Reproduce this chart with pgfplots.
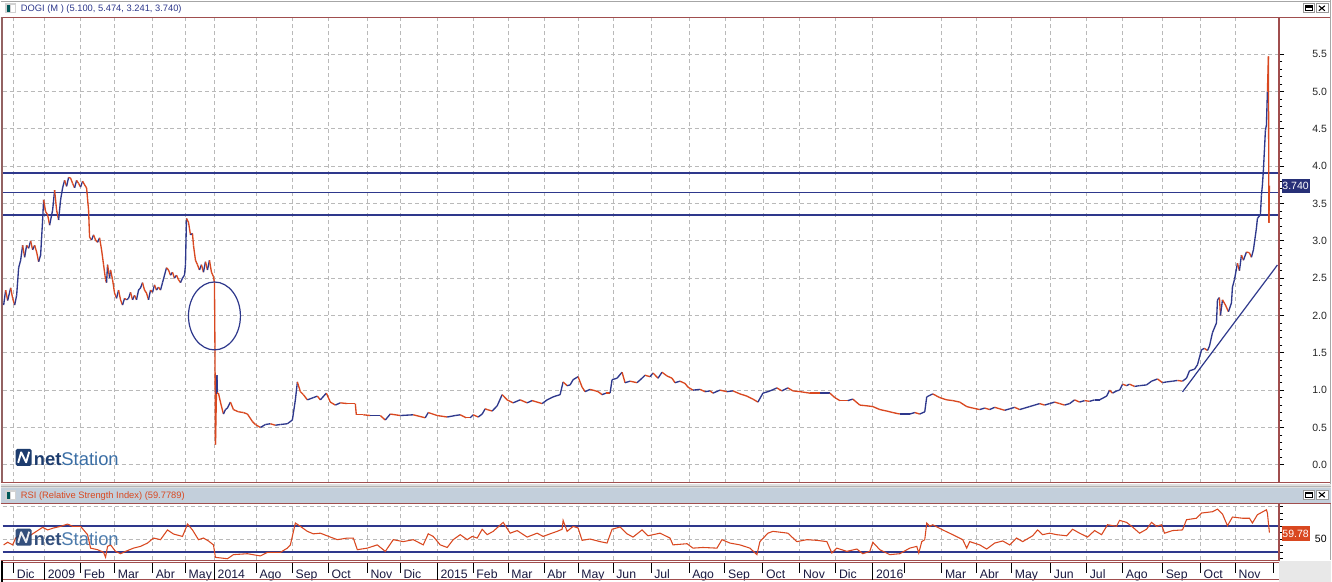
\documentclass[border=0pt]{standalone}
\usepackage{fontspec}
\setmainfont{Liberation Sans}
\usepackage{pgfplots}
\usepackage{pgfplotstable}
\pgfplotsset{compat=1.18}

\definecolor{pred}{HTML}{D94820}
\definecolor{pblue}{HTML}{2E388C}
\definecolor{frame}{HTML}{A04E4E}
\definecolor{gridc}{HTML}{B9B9B9}
\definecolor{hdr}{HTML}{C3CFDB}
\definecolor{logoA}{HTML}{1D3C6E}
\definecolor{logoB}{HTML}{3A6EA5}
\definecolor{datec}{HTML}{1A1A40}

% price path, x in screen columns, c=1 for a falling (red) segment
\pgfplotstableread{
x p c
3 2.14 0
5 2.34 1
7 2.20 0
10 2.37 1
12 2.23 1
14 2.14 0
16 2.27 0
18 2.64 0
20 2.74 0
22 2.94 1
24 2.78 0
26 2.94 1
28 2.90 0
30 3.00 1
32 2.88 0
34 2.94 1
36 2.85 1
38 2.72 0
40 2.81 0
42 3.28 0
43 3.55 1
45 3.39 1
47 3.35 1
49 3.21 0
52 3.41 0
54 3.68 1
56 3.41 1
58 3.28 0
60 3.55 0
62 3.71 0
64 3.81 1
66 3.73 0
68 3.85 1
70 3.84 1
72 3.77 1
74 3.71 0
76 3.81 1
78 3.77 1
80 3.72 0
82 3.80 1
84 3.75 1
86 3.71 1
88 3.41 1
89 3.05 1
91 3.01 0
93 3.08 1
95 3.01 1
97 2.98 0
99 3.04 1
101 2.88 1
103 2.68 1
105 2.48 1
106 2.44 0
107 2.68 1
109 2.50 0
110 2.61 1
112 2.48 1
114 2.30 1
116 2.23 0
118 2.34 1
120 2.21 1
122 2.14 0
124 2.23 1
126 2.21 0
128 2.23 0
130 2.31 1
132 2.21 0
134 2.27 1
136 2.21 0
138 2.34 0
140 2.37 0
142 2.44 1
144 2.34 1
146 2.30 1
148 2.21 0
150 2.34 1
152 2.31 0
154 2.41 1
156 2.34 0
158 2.38 1
160 2.34 0
162 2.44 0
164 2.54 0
166 2.64 1
168 2.61 1
170 2.54 0
172 2.58 1
174 2.50 0
176 2.54 1
178 2.48 1
180 2.44 0
182 2.50 0
184 2.54 0
185 2.68 0
186 3.30 1
188 3.25 1
190 3.08 0
192 3.10 1
193 2.94 1
195 2.74 1
197 2.68 1
199 2.61 0
201 2.68 1
203 2.58 0
205 2.72 1
207 2.61 0
209 2.74 1
211 2.58 1
213 2.52 1
214 2.44 1
214.5 1.57 1
215 0.27 1
216 0.95 0
216.5 1.20 0
217 0.96 1
218 0.96 1
220 0.84 1
223 0.68 0
225 0.74 0
227 0.76 0
230 0.84 1
233 0.74 1
238 0.71 1
243 0.70 1
247 0.68 1
252 0.58 1
255 0.54 1
260 0.50 0
265 0.54 0
270 0.55 1
275 0.53 0
280 0.54 0
287 0.55 0
292 0.60 0
295 0.87 0
297 1.11 1
300 0.98 1
303 0.94 1
307 0.87 0
313 0.90 0
317 0.92 1
320 0.87 0
326 0.96 1
330 0.84 1
335 0.80 0
340 0.83 1
347 0.82 1
355 0.82 1
356 0.67 1
363 0.67 1
370 0.66 0
380 0.66 1
385 0.60 0
390 0.68 1
400 0.66 0
413 0.67 1
425 0.63 0
428 0.70 1
437 0.66 1
447 0.64 0
455 0.66 0
460 0.67 1
466 0.63 1
470 0.63 0
473 0.67 1
478 0.64 0
482 0.68 0
485 0.75 1
487 0.74 1
492 0.72 0
497 0.79 0
502 0.94 1
507 0.87 1
513 0.83 0
520 0.87 1
527 0.83 0
532 0.86 1
537 0.84 1
542 0.82 0
547 0.87 0
553 0.91 0
560 0.94 0
563 1.11 1
567 1.06 0
570 1.07 0
573 1.14 0
578 1.18 1
582 1.04 1
585 0.98 0
590 1.01 1
593 1.00 1
598 0.98 1
602 0.94 0
606 0.96 1
610 0.96 0
612 1.14 0
617 1.16 0
622 1.24 1
625 1.10 0
630 1.12 1
637 1.10 0
642 1.16 0
645 1.20 1
650 1.18 0
653 1.23 1
658 1.16 0
662 1.24 1
667 1.19 1
672 1.16 1
675 1.10 0
680 1.12 1
685 1.09 1
688 1.04 1
693 1.00 0
700 1.01 1
705 0.98 0
710 0.99 1
713 0.96 0
720 1.00 1
727 0.98 0
733 0.99 1
740 0.95 1
747 0.92 1
753 0.88 1
758 0.84 0
763 0.96 0
768 0.98 0
772 1.00 0
777 1.03 1
782 0.99 0
788 1.03 1
793 0.99 1
800 0.98 1
810 0.96 1
820 0.96 0
830 0.96 1
835 0.90 1
840 0.86 1
848 0.86 0
853 0.88 1
860 0.80 1
867 0.79 1
873 0.78 1
880 0.74 1
887 0.72 1
893 0.70 1
900 0.68 0
910 0.68 0
915 0.70 1
920 0.68 0
925 0.71 0
927 0.91 0
933 0.95 1
940 0.90 1
947 0.87 1
953 0.86 1
960 0.84 1
967 0.78 1
973 0.76 1
980 0.74 0
985 0.76 1
990 0.74 0
995 0.77 1
1000 0.75 1
1005 0.73 0
1010 0.75 0
1015 0.77 1
1020 0.74 0
1025 0.76 0
1030 0.78 0
1035 0.80 0
1040 0.82 1
1045 0.80 0
1050 0.82 0
1055 0.84 1
1060 0.82 1
1065 0.80 0
1070 0.82 0
1075 0.87 1
1080 0.84 0
1085 0.86 1
1090 0.85 0
1095 0.87 0
1100 0.87 0
1107 0.92 0
1110 1.00 1
1113 0.96 0
1117 0.99 0
1120 1.00 0
1123 1.08 1
1127 1.06 0
1130 1.08 1
1135 1.05 0
1140 1.06 0
1147 1.07 0
1152 1.12 0
1158 1.15 1
1163 1.10 0
1167 1.11 0
1173 1.12 0
1178 1.13 1
1183 1.12 0
1187 1.16 0
1190 1.26 0
1195 1.28 0
1198 1.34 0
1202 1.54 0
1205 1.56 1
1208 1.53 0
1210 1.59 0
1213 1.77 0
1217 1.90 0
1218 2.21 0
1220 2.24 1
1221 2.00 0
1223 2.21 1
1226 2.14 1
1229 2.05 0
1232 2.17 0
1233 2.38 0
1235 2.48 0
1238 2.70 1
1240 2.60 0
1242 2.81 1
1244 2.74 0
1247 2.85 1
1250 2.84 1
1252 2.78 0
1254 2.88 0
1257 3.17 0
1258 3.30 0
1261 3.35 0
1262 3.61 0
1263 3.75 0
1264 3.95 0
1266 4.48 0
1267 4.55 0
1268 5.00 1
1269 5.47 1
1269.5 3.24 1
1270 3.74 1
}\price

\pgfplotstableread{
x r
3 41
7 45
12 41
15 51.5
20 56.7
27 53
33 59
42 68
47 64
53 67
60 69.5
67 73
72 69.5
80 69.5
87 56.7
90 36
97 33.6
103 29.5
105 22
107 38.7
110 41
115 31
120 27.4
125 31
133 36
140 38.7
147 43.8
153 51.5
160 49
167 64
173 57.7
182 54
187 73
192 64
198 49
203 51.5
208 47
213 41
215 21.8
227 19.7
233 26
247 27.4
260 24
267 29.5
280 29.5
287 36
290 41
295 74.6
300 69.5
307 61.8
313 58
320 59
330 53
337 49
347 51.5
353 51.5
357 33.6
367 36
377 41
385 31
393 49
403 46
413 49
423 41
428 58
433 54
440 41
447 37
453 49
460 56.7
467 49
472 54
477 51.5
482 65
487 56.7
493 61.8
503 75.6
510 59
517 63
527 53
537 59
543 54
550 58
557 61.8
562 65
563 78.7
567 61.8
573 69.5
578 67
582 48
590 50
600 46
607 43.8
612 65
620 68.5
627 58
633 53
642 64
648 55
660 59
670 51.5
673 41
687 42.8
693 36
703 37
717 36
722 49
730 43.8
740 41
750 36
757 26
760 46
768 59
773 61.8
783 60
788 59
797 46
807 49
817 48
827 46
832 28.5
837 36
847 31
857 34.6
863 27.4
870 31
873 45
880 33.6
890 26
900 27.4
910 36
917 38.7
919 28.5
922 46
925 49
927 74.6
930 69.5
933 72
943 64
953 56.7
963 49
967 36
970 46
980 41
987 34.6
995 43.8
1003 47
1010 41
1017 51.5
1023 46
1033 55
1038 64
1043 56.7
1050 59
1057 56.7
1067 55
1073 65
1080 59
1088 53
1095 63
1102 56.7
1108 72
1117 69.5
1120 78.7
1127 75.6
1133 68.5
1140 59
1147 65
1152 75.6
1157 69.5
1162 72
1165 59
1173 63
1183 64
1187 79.7
1197 82
1202 90
1213 92
1218 96
1223 88.5
1228 70.5
1233 83.8
1243 82
1250 82
1253 74.6
1258 87.4
1267 95
1268 90
1270 59.78
}\rsi

\tikzset{px/.style={x=0.75pt,y=-0.75pt}}

\newcommand{\netlogo}{%
  \fill[logoA, rounded corners=1.2pt] (15,449) rectangle (31,466);
  \draw[white, line width=1.4pt, line join=round] (17.5,463) -- (20.5,452.5) -- (25.5,462.5) -- (28.5,452);
  \node[anchor=base west, inner sep=0pt] at (33,465.5)
    {\fontsize{13.8}{14}\selectfont\textcolor{logoA}{\textbf{net}}\textcolor{logoB}{Station}};
}

\begin{document}
\begin{tikzpicture}
\begin{scope}[px]
\useasboundingbox (0,0) rectangle (1332,582);
\fill[white] (0,0) rectangle (1332,582);

% top header
\draw[gray!70] (0,0.5) -- (1332,0.5);
\fill[gray!35] (4,3) rectangle (15,13);
\fill[teal!70!black] (6,5) rectangle (9,12);
\fill[white] (10,5) rectangle (14,12);
\node[anchor=base west, inner sep=0pt, text=pblue] at (20,11)
  {\fontsize{7}{8}\selectfont DOGI (M ) (5.100, 5.474, 3.241, 3.740)};
\draw[gray!80] (1303.5,3.5) rectangle (1314.5,12.5);
\fill[black] (1305.5,5.5) rectangle (1312.5,7.5);
\draw[black] (1305.5,5.5) rectangle (1312.5,10.5);
\draw[gray!80] (1316.5,3.5) rectangle (1328.5,12.5);
\draw[black, line width=0.8pt] (1319.5,5.5) -- (1325.5,10.5) (1319.5,10.5) -- (1325.5,5.5);
\end{scope}

% main price panel
\begin{axis}[
  at={(1.5pt,-362.25pt)}, anchor=south west,
  scale only axis, width=958.5pt, height=349.5pt,
  xmin=2, xmax=1280, ymin=-0.241, ymax=5.995,
  axis line style={draw=none},
  xtick={13,44,80,114,152,185,214,256,292,328,367,400,437,473,508,544,578,613,651,689,725,763,800,836,873,942,977,1012,1051,1087,1123,1163,1201,1236},
  xticklabels={},
  major x tick style={draw=none},
  ytick={0,0.5,...,5.5},
  minor y tick num=4,
  ytick pos=right, yticklabel pos=right,
  tick align=outside,
  major tick length=3.5pt, minor tick length=2.2pt,
  y tick style={black, line width=0.6pt},
  yticklabel style={anchor=west, inner sep=0pt, xshift=21pt,
    font=\fontsize{7.9}{9}\selectfont, text=black!85},
  /pgf/number format/.cd, fixed, fixed zerofill, precision=1, assume math mode=true,
  /pgfplots/.cd,
  xmajorgrids, ymajorgrids,
  grid style={gridc, line width=0.6pt, dash pattern=on 3pt off 2.25pt},
  colormap={rb}{color=(pblue) color=(pred)},
  colormap access=piecewise constant,
  point meta min=0, point meta max=1,
]
\addplot[pblue, line width=1pt] coordinates {(2,3.91) (1280,3.91)};
\addplot[pblue, line width=1.1pt] coordinates {(2,3.65) (1280,3.65)};
\addplot[pblue, line width=1pt] coordinates {(2,3.345) (1280,3.345)};
\addplot[mesh, shader=flat corner, line width=1pt, point meta=explicit]
  table[x=x, y=p, meta=c] {\price};
\draw[pblue, line width=0.9pt] (axis cs:214,1.994) ellipse [x radius=19.5pt, y radius=25.5pt];
\draw[pblue, line width=0.9pt] (axis cs:1183,0.977) -- (axis cs:1278,2.676);
\end{axis}

% RSI panel
\begin{axis}[
  at={(1.5pt,-420.375pt)}, anchor=south west,
  scale only axis, width=958.5pt, height=42.75pt,
  xmin=2, xmax=1280, ymin=17.4, ymax=105,
  axis line style={draw=none},
  xtick={13,44,80,114,152,185,214,256,292,328,367,400,437,473,508,544,578,613,651,689,725,763,800,836,873,942,977,1012,1051,1087,1123,1163,1201,1236},
  xticklabels={Dic,2009,Feb,Mar,Abr,May,2014,Ago,Sep,Oct,Nov,Dic,2015,Feb,Mar,Abr,May,Jun,Jul,Ago,Sep,Oct,Nov,Dic,2016,Mar,Abr,May,Jun,Jul,Ago,Sep,Oct,Nov},
  xticklabel style={anchor=base west, inner sep=0pt, xshift=2.25pt, yshift=-11.6pt,
    font=\fontsize{9.2}{10}\selectfont, text=datec},
  major x tick style={draw=none},
  ytick={50,100}, yticklabels={50,{}},
  minor ytick={20,30,40,60,70,80,90},
  ytick pos=right, yticklabel pos=right,
  tick align=outside,
  major tick length=2.5pt, minor tick length=2.5pt,
  y tick style={black, line width=0.6pt},
  yticklabel style={anchor=west, inner sep=0pt, xshift=24pt,
    font=\fontsize{7.9}{9}\selectfont, text=black},
  xmajorgrids, ymajorgrids,
  grid style={gridc, line width=0.6pt, dash pattern=on 3pt off 2.25pt},
]
\addplot[pblue, line width=0.9pt] coordinates {(2,70) (1280,70)};
\addplot[pblue, line width=0.9pt] coordinates {(2,30) (1280,30)};
\addplot[pred, line width=0.8pt] table[x=x, y=r] {\rsi};
\end{axis}

\begin{scope}[px]
\netlogo
\begin{scope}[shift={(0,80)}, opacity=0.9]
\netlogo
\end{scope}

% main panel frame
\draw[frame, line width=1pt] (0,17) -- (1332,17);
\fill[frame!60!gray] (0,17) rectangle (2.5,483);
\draw[frame, line width=1.5pt] (1280,17) -- (1280,483);
\draw[frame, line width=1pt] (0,483) -- (1332,483);
\draw[gray!70] (1331,0) -- (1331,560);
\node[fill=pblue!85!black, text=white, anchor=west, inner xsep=0.6pt, inner ysep=0pt,
  minimum height=10.5pt] at (1282,186) {\fontsize{7.9}{9}\selectfont 3.740};

% gap and RSI header
\fill[gray!25] (0,484) rectangle (1332,488);
\draw[gray!60] (0,486) -- (1332,486);
\fill[hdr] (0,488) rectangle (1332,503);
\fill[gray!35] (4,490) rectangle (15,500);
\fill[teal!70!black] (6,492) rectangle (9,499);
\fill[white] (10,492) rectangle (14,499);
\node[anchor=base west, inner sep=0pt, text=pred] at (20,498.5)
  {\fontsize{7}{8}\selectfont RSI (Relative Strength Index) (59.7789)};
\fill[white] (1303.5,490.5) rectangle (1314.5,499.5);
\draw[gray!80] (1303.5,490.5) rectangle (1314.5,499.5);
\draw[black] (1305.5,492.5) rectangle (1312.5,497.5);
\fill[black] (1305.5,492.5) rectangle (1312.5,494);
\fill[white] (1316.5,490.5) rectangle (1328.5,499.5);
\draw[gray!80] (1316.5,490.5) rectangle (1328.5,499.5);
\draw[black, line width=0.8pt] (1319.5,492.5) -- (1325.5,497.5) (1319.5,497.5) -- (1325.5,492.5);

% RSI frame
\draw[frame, line width=1pt] (0,503.5) -- (1332,503.5);
\draw[frame, line width=1.5pt] (1280,503.5) -- (1280,561);
\node[fill=pred, text=white, anchor=west, inner xsep=0.6pt, inner ysep=0pt,
  minimum height=11pt] at (1282,534) {\fontsize{7.9}{9}\selectfont 59.78};

% date row
\fill[gray!18] (1280,561) rectangle (1332,582);
\draw[frame, line width=1pt] (0,561) -- (1280,561);
\draw[frame, line width=0.6pt] (0,563) -- (1280,563);
\draw[frame, line width=1pt] (0,580) -- (1280,580);
\fill[black] (0,561) rectangle (2,582);
\foreach \t in {13,80,114,152,185,256,292,328,367,400,473,508,544,578,613,651,689,725,763,800,836,905,942,977,1012,1051,1087,1123,1163,1201,1236,1274}
  \draw[black, line width=0.7pt] (\t,563) -- (\t,573);
\foreach \t in {44,214,437,873}
  \draw[black, line width=0.7pt] (\t,563) -- (\t,580);
\end{scope}
\end{tikzpicture}
\end{document}
